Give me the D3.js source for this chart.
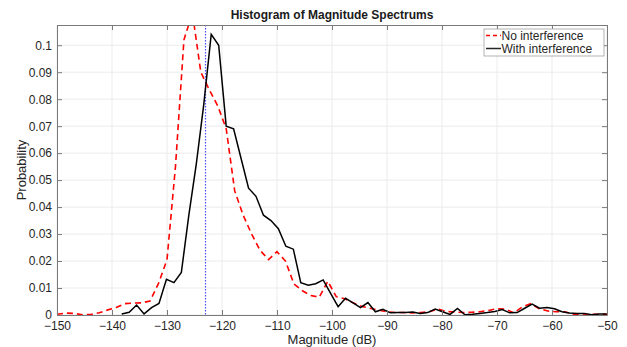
<!DOCTYPE html>
<html>
<head>
<meta charset="utf-8">
<script src="https://cdn.jsdelivr.net/npm/d3@7"></script>
<style>
	body { margin: 0; background: #fff; }
	svg { font-family: "Liberation Sans", Arial, Helvetica, sans-serif; }
</style>
</head>
<body>
<svg id="chart" width="627" height="347"></svg>
<script>
// bin centres of each histogram (dB)
var noIntX = [-150.00, -148.46, -146.92, -145.38, -143.85, -142.31, -140.77, -139.23, -137.69, -136.15,
	-134.62, -133.08, -131.54, -130.00, -128.46, -126.92, -125.38, -123.85, -122.31, -120.77,
	-119.23, -117.69, -116.15, -114.62, -113.08, -111.54, -110.00, -108.46, -106.92, -105.38,
	-103.85, -102.31, -100.77, -99.23, -97.69, -96.15, -94.62, -93.08, -91.54, -90.00,
	-88.46, -86.92, -85.38, -83.85, -82.31, -80.77, -79.23, -77.69, -76.15, -74.62,
	-73.08, -71.54, -70.00, -68.46, -66.92, -65.38, -63.85, -62.31, -60.77, -59.23,
	-57.69, -56.15, -54.62, -53.08, -51.54, -50.00];
var noIntY = [0.0003, 0.0007, 0.0006, 0.0001, 0.0002, 0.0008, 0.0019, 0.0028, 0.0042, 0.0044,
	0.0045, 0.0052, 0.0117, 0.0205, 0.055, 0.102, 0.112, 0.090, 0.0835, 0.0775,
	0.069, 0.046, 0.037, 0.030, 0.024, 0.0205, 0.0235, 0.020, 0.0115, 0.009,
	0.0072, 0.0066, 0.0125, 0.0068, 0.006, 0.0045, 0.0032, 0.0025, 0.0018, 0.0012,
	0.0009, 0.0009, 0.0008, 0.0009, 0.0012, 0.0022, 0.0013, 0.0011, 0.0009, 0.001,
	0.0012, 0.0017, 0.0023, 0.0022, 0.0008, 0.003, 0.0042, 0.0023, 0.0015, 0.0012,
	0.0012, 0.0002, 0.0, 0.0002, 0.0003, 0.0003];

var withIntX = [-138.24, -136.88, -135.53, -134.17, -132.81, -131.46, -130.10, -128.74, -127.39, -126.03,
	-124.67, -123.32, -121.96, -120.60, -119.24, -117.89, -116.53, -115.17, -113.82, -112.46,
	-111.10, -109.75, -108.39, -107.03, -105.68, -104.32, -102.96, -101.61, -100.25, -98.89,
	-97.54, -96.18, -94.82, -93.47, -92.11, -90.75, -89.40, -88.04, -86.68, -85.32,
	-83.97, -82.61, -81.25, -79.90, -78.54, -77.18, -75.83, -74.47, -73.11, -71.76,
	-70.40, -69.04, -67.69, -66.33, -64.97, -63.62, -62.26, -60.90, -59.55, -58.19,
	-56.83, -55.48, -54.12, -52.76, -51.40, -50.05];
var withIntY = [0.0004, 0.001, 0.0037, 0.0004, 0.0027, 0.0043, 0.0132, 0.012, 0.0158, 0.037,
	0.056, 0.078, 0.104, 0.100, 0.070, 0.069, 0.058, 0.047, 0.044, 0.037,
	0.035, 0.032, 0.0255, 0.0244, 0.012, 0.011, 0.0116, 0.013, 0.008, 0.0031,
	0.0062, 0.0045, 0.0027, 0.0046, 0.0012, 0.0021, 0.0008, 0.0009, 0.0009, 0.0011,
	0.0006, 0.0009, 0.0022, 0.0012, 0.0002, 0.0024, 0.0001, 0.0003, 0.0006, 0.0009,
	0.0013, 0.002, 0.0008, 0.0009, 0.0025, 0.004, 0.0025, 0.0028, 0.0023, 0.0012,
	0.0007, 0.0006, 0.0006, 0.0001, 0.0004, 0.0004];

var markerX = -123;
var xTicks = [-150, -140, -130, -120, -110, -100, -90, -80, -70, -60, -50];
var yTicks = [0, 0.01, 0.02, 0.03, 0.04, 0.05, 0.06, 0.07, 0.08, 0.09, 0.1];
var seriesNames = ["No interference", "With interference"];

var margin = {top: 25, right: 20, bottom: 32, left: 57},
	width = 627 - margin.left - margin.right,
	height = 347 - margin.top - margin.bottom,
	svg = d3.select("#chart"),
	g = svg.append("g")
		.attr("transform", "translate(" + margin.left + "," + margin.top + ")"),
	x = d3.scaleLinear().domain([-150, -50]).range([0, width]),
	y = d3.scaleLinear().domain([0, 0.1075]).range([height, 0]);

// grid
g.selectAll(".vgrid").data(xTicks).enter().append("line")
	.attr("x1", function(d) { return x(d); }).attr("x2", function(d) { return x(d); })
	.attr("y1", 0).attr("y2", height)
	.attr("stroke", "#ebebeb").attr("stroke-width", 1);
g.selectAll(".hgrid").data(yTicks).enter().append("line")
	.attr("x1", 0).attr("x2", width)
	.attr("y1", function(d) { return y(d); }).attr("y2", function(d) { return y(d); })
	.attr("stroke", "#ebebeb").attr("stroke-width", 1);

g.append("clipPath").attr("id", "clip")
	.append("rect").attr("width", width).attr("height", height);

var plot = g.append("g").attr("clip-path", "url(#clip)");

plot.append("line")
	.attr("x1", x(markerX)).attr("x2", x(markerX))
	.attr("y1", 0).attr("y2", height)
	.attr("stroke", "#4d4dff").attr("stroke-width", 1.2)
	.attr("stroke-dasharray", "1.5,1.5");

var line = d3.line()
	.x(function(d) { return x(d[0]); })
	.y(function(d) { return y(d[1]); });

plot.append("path")
	.datum(d3.zip(noIntX, noIntY))
	.attr("fill", "none").attr("stroke", "#ff0000").attr("stroke-width", 1.6)
	.attr("stroke-dasharray", "6,4")
	.attr("d", line);

plot.append("path")
	.datum(d3.zip(withIntX, withIntY))
	.attr("fill", "none").attr("stroke", "#000").attr("stroke-width", 1.5)
	.attr("d", line);

// axes (box with inward ticks)
function styleAxis(sel) {
	sel.select(".domain").attr("stroke", "#7a7a7a");
	sel.selectAll(".tick line").attr("stroke", "#7a7a7a");
	sel.selectAll(".tick text").attr("fill", "#262626").style("font-size", "12px");
}
g.append("g")
	.attr("transform", "translate(0," + height + ")")
	.call(d3.axisBottom(x).tickValues(xTicks).tickSizeInner(-5).tickSizeOuter(0).tickPadding(6))
	.call(styleAxis);
g.append("g")
	.call(d3.axisTop(x).tickValues(xTicks).tickSizeInner(-5).tickSizeOuter(0).tickFormat(""))
	.call(styleAxis);
g.append("g")
	.call(d3.axisLeft(y).tickValues(yTicks).tickSizeInner(-5).tickSizeOuter(0).tickPadding(5)
		.tickFormat(function(d) { return d === 0 ? "0" : d3.format("~g")(d); }))
	.call(styleAxis);
g.append("g")
	.attr("transform", "translate(" + width + ",0)")
	.call(d3.axisRight(y).tickValues(yTicks).tickSizeInner(-5).tickSizeOuter(0).tickFormat(""))
	.call(styleAxis);

// titles
svg.append("text")
	.attr("x", margin.left + width / 2).attr("y", 19)
	.attr("text-anchor", "middle")
	.style("font-size", "12px").style("font-weight", "bold").attr("fill", "#1a1a1a")
	.text("Histogram of Magnitude Spectrums");
svg.append("text")
	.attr("x", margin.left + width / 2).attr("y", 344)
	.attr("text-anchor", "middle")
	.style("font-size", "13px").attr("fill", "#262626")
	.text("Magnitude (dB)");
svg.append("text")
	.attr("transform", "translate(26," + (margin.top + height / 2) + ") rotate(-90)")
	.attr("text-anchor", "middle")
	.style("font-size", "13px").attr("fill", "#262626")
	.text("Probability");

// legend
var legend = svg.append("g").attr("transform", "translate(484,29)");
legend.append("rect")
	.attr("width", 120).attr("height", 27)
	.attr("fill", "#fff").attr("stroke", "#a0a0a0").attr("stroke-width", 0.8);
var styles = [{stroke: "#ff0000", dash: "4,3"}, {stroke: "#262626", dash: null}];
seriesNames.forEach(function(name, i) {
	var row = legend.append("g").attr("transform", "translate(0," + (6.5 + i * 13) + ")");
	row.append("line")
		.attr("x1", 2).attr("x2", 17).attr("y1", 0).attr("y2", 0)
		.attr("stroke", styles[i].stroke).attr("stroke-width", 1.5)
		.attr("stroke-dasharray", styles[i].dash);
	row.append("text")
		.attr("x", 17.5).attr("y", 4.3)
		.style("font-size", "12px").attr("fill", "#262626")
		.text(name);
});
</script>
</body>
</html>
